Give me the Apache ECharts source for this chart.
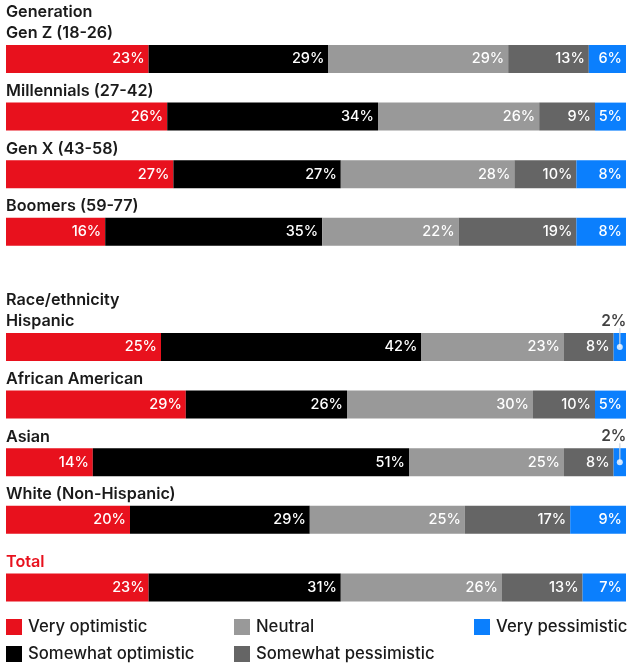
<!DOCTYPE html>
<html>
<head>
<meta charset="utf-8">
<script src="https://cdn.jsdelivr.net/npm/echarts@6/dist/echarts.min.js"></script>
<style>
html,body{margin:0;padding:0;background:#fff;}
#chart{width:627px;height:667px;}
</style>
</head>
<body>
<div id="chart"></div>
<script>
// ---- data ----
const categories = ['Gen Z (18-26)', 'Millennials (27-42)', 'Gen X (43-58)', 'Boomers (59-77)',
  'Hispanic', 'African American', 'Asian', 'White (Non-Hispanic)', 'Total'];
const groupHeaders = ['Generation', 'Race/ethnicity'];
const groupFirstCategory = ['Gen Z (18-26)', 'Hispanic'];
const seriesNames = ['Very optimistic', 'Somewhat optimistic', 'Neutral', 'Somewhat pessimistic', 'Very pessimistic'];
const veryOptimistic      = [23, 26, 27, 16, 25, 29, 14, 20, 23];
const somewhatOptimistic  = [29, 34, 27, 35, 42, 26, 51, 29, 31];
const neutral             = [29, 26, 28, 22, 23, 30, 25, 25, 26];
const somewhatPessimistic = [13,  9, 10, 19,  8, 10,  8, 17, 13];
const veryPessimistic     = [ 6,  5,  8,  8,  2,  5,  2,  9,  7];

// ---- styling ----
const colors = ['#e8111d', '#000000', '#999999', '#656565', '#0b7ffd'];
const FONT = 'Inter';
const values = [veryOptimistic, somewhatOptimistic, neutral, somewhatPessimistic, veryPessimistic];

// grid A: first 8 categories, with an empty spacer slot between the groups
const spacer = '';
const catsA = categories.slice(0, 4).concat([spacer]).concat(categories.slice(4, 8));
const idxA = [0, 1, 2, 3, -1, 4, 5, 6, 7];
const catsB = [categories[8]];

function labelFormatter(p) { return p.value < 3 ? '' : p.value + '%'; }
const barLabel = {
  show: true, position: 'insideRight', distance: 4, color: '#fff',
  fontFamily: FONT, fontSize: 14.5, fontWeight: 500, formatter: labelFormatter
};

const series = [];
seriesNames.forEach((name, s) => {
  series.push({
    name, type: 'bar', stack: 'a', xAxisIndex: 0, yAxisIndex: 0, barWidth: 28,
    itemStyle: { color: colors[s] }, label: barLabel, emphasis: { disabled: true },
    data: idxA.map(i => i < 0 ? null : values[s][i])
  });
  series.push({
    name, type: 'bar', stack: 'b', xAxisIndex: 1, yAxisIndex: 1, barWidth: 28,
    itemStyle: { color: colors[s] }, label: barLabel, emphasis: { disabled: true },
    data: [values[s][8]]
  });
});

// small-segment annotations (values too small to hold a label inside)
const small = [];
idxA.forEach((i, k) => {
  if (i < 0) return;
  const v = veryPessimistic[i];
  if (v < 3) {
    const start = veryOptimistic[i] + somewhatOptimistic[i] + neutral[i] + somewhatPessimistic[i];
    small.push([start + v / 2, catsA[k], v]);
  }
});
series.push({
  type: 'scatter', xAxisIndex: 0, yAxisIndex: 0, symbol: 'rect', symbolSize: [1.5, 19],
  symbolOffset: [0, -9.5], itemStyle: { color: '#c9d3de' }, silent: true, z: 5, data: small
});
series.push({
  type: 'scatter', xAxisIndex: 0, yAxisIndex: 0, symbol: 'circle', symbolSize: 6,
  itemStyle: { color: '#fff' }, silent: true, z: 6, data: small,
  label: {
    show: true, position: 'top', distance: 15, offset: [-6, 0], color: '#111',
    fontFamily: FONT, fontSize: 15.5, fontWeight: 600, formatter: p => p.value[2] + '%'
  }
});

const axisLabelBase = {
  inside: true, margin: 0, interval: 0, verticalAlign: 'bottom', padding: [0, 0, 15, 0],
  lineHeight: 21, fontFamily: FONT, fontSize: 16.2, fontWeight: 600, color: '#1a1a1a'
};

const legendPos = [[6, 627], [6, 654], [234, 627], [234, 654], [474, 627]];
const legends = seriesNames.map((name, i) => ({
  orient: 'horizontal', left: legendPos[i][0], top: legendPos[i][1] - 9, padding: 0,
  itemWidth: 16, itemHeight: 16, itemGap: 6, icon: 'rect', selectedMode: false, data: [name],
  textStyle: { fontFamily: FONT, fontSize: 16.7, fontWeight: 500, color: '#1a1a1a', padding: [0, 0, 0, 1], lineHeight: 18 }
}));

const option = {
  animation: false,
  backgroundColor: '#fff',
  grid: [
    { left: 6, right: 1, top: 30.2, height: 518.4 },
    { left: 6, right: 1, top: 558.7, height: 57.6 }
  ],
  xAxis: [0, 1].map(g => ({
    type: 'value', gridIndex: g, min: 0, max: 100, show: false, splitLine: { show: false }
  })),
  yAxis: [
    {
      type: 'category', gridIndex: 0, data: catsA, inverse: true,
      axisLine: { show: false }, axisTick: { show: false },
      axisLabel: Object.assign({}, axisLabelBase, {
        formatter: v => {
          const g = groupFirstCategory.indexOf(v);
          return g >= 0 ? groupHeaders[g] + '\n' + v : v;
        }
      })
    },
    {
      type: 'category', gridIndex: 1, data: catsB, inverse: true,
      axisLine: { show: false }, axisTick: { show: false },
      axisLabel: Object.assign({}, axisLabelBase, { color: '#e8111d' })
    }
  ],
  legend: legends,
  series
};

const chart = echarts.init(document.getElementById('chart'), null, { renderer: 'canvas' });
chart.setOption(option);
</script>
</body>
</html>
